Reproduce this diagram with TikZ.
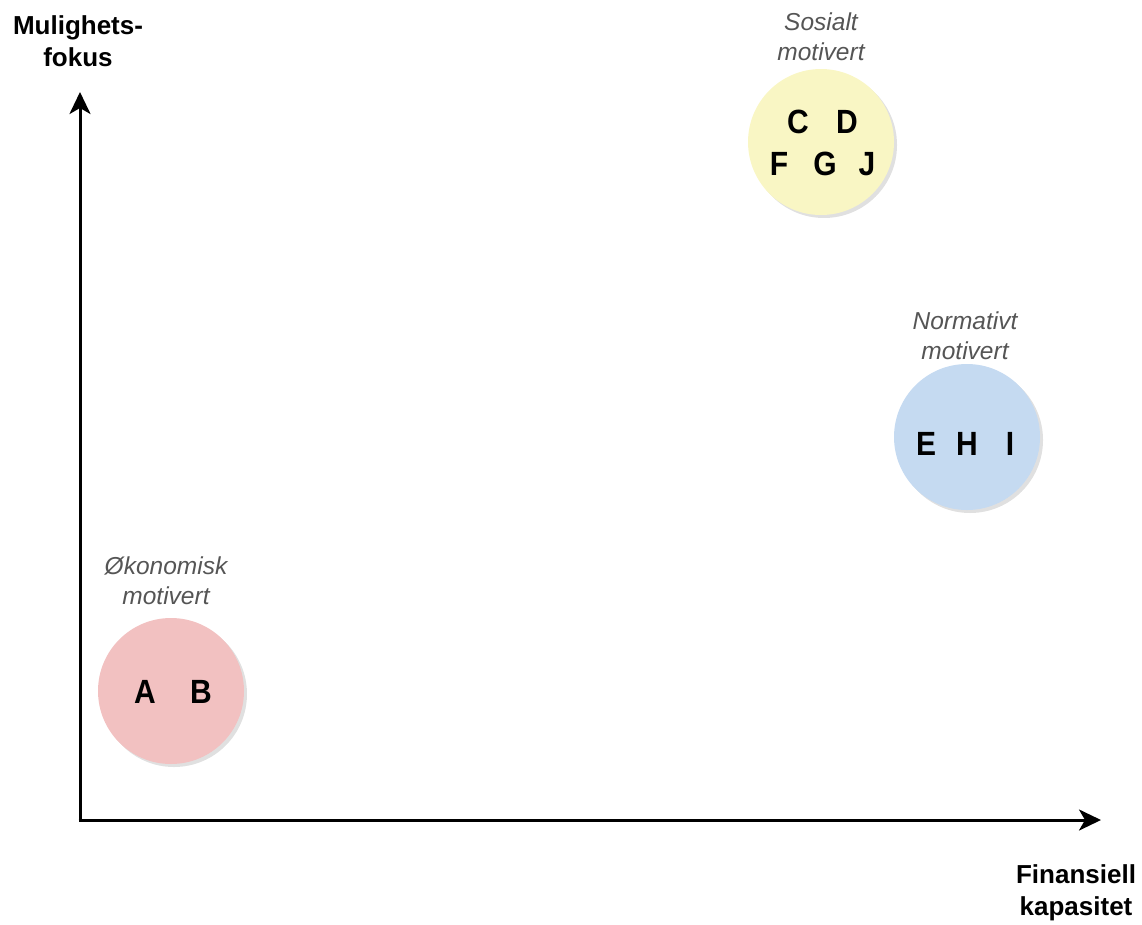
\documentclass[tikz,border=0pt]{standalone}
\usepackage{fontspec}
\setmainfont{Liberation Sans}
\usetikzlibrary{arrows.meta,shadows}
\definecolor{socfill}{RGB}{249,246,196}
\definecolor{normfill}{RGB}{197,218,241}
\definecolor{econfill}{RGB}{242,193,193}
\definecolor{notegray}{RGB}{85,85,85}
\newcommand{\tallglyph}[1]{\scalebox{1}[1.12]{#1}}
\tikzset{
  axis/.style={line width=3pt,-{Stealth[length=22pt,width=21pt,inset=6pt]}},
  axislabel/.style={align=center,inner sep=0pt,font=\fontsize{26}{32}\selectfont\bfseries},
  group/.style={circle,minimum size=146pt,inner sep=0pt,draw=none,
    drop shadow={shadow xshift=3pt,shadow yshift=-3pt,fill=black,opacity=0.12}},
  member/.style={inner sep=0pt,font=\fontsize{30}{30}\selectfont\bfseries},
  grouplabel/.style={align=center,inner sep=0pt,text=notegray,font=\fontsize{24.5}{30}\selectfont\itshape}
}
\begin{document}
\begin{tikzpicture}[x=1pt,y=-1pt]
\useasboundingbox (0,0) rectangle (1142,924);

% axes
\coordinate (origin) at (80,820);
\coordinate (ytip) at (80,92);
\coordinate (xtip) at (1101,820);
\draw[axis] (origin) -- (ytip);
\draw[axis] ([xshift=-1.5pt]origin) -- (xtip);
\node[axislabel] (ylabel) at (78,41) {Mulighets-\\fokus};
\node[axislabel] (xlabel) at (1076,893) {Finansiell\\kapasitet};

% social group
\node[group,fill=socfill] (social) at (821,142) {};
\node[grouplabel] (sociallabel) at (821,37) {Sosialt\\motivert};
\node[member] (C) at (798,122) {\tallglyph{C}};
\node[member] (D) at (847,122) {\tallglyph{D}};
\node[member] (F) at (779,164) {\tallglyph{F}};
\node[member] (G) at (825,164) {\tallglyph{G}};
\node[member] (J) at (867,164) {\tallglyph{J}};

% normative group
\node[group,fill=normfill] (normative) at (967,437) {};
\node[grouplabel] (normativelabel) at (965,336) {Normativt\\motivert};
\node[member] (E) at (926,444) {\tallglyph{E}};
\node[member] (H) at (967,444) {\tallglyph{H}};
\node[member] (I) at (1010,444) {\tallglyph{I}};

% economic group
\node[group,fill=econfill] (economic) at (171,691) {};
\node[grouplabel] (economiclabel) at (166,581) {Økonomisk\\motivert};
\node[member] (A) at (145,692) {\tallglyph{A}};
\node[member] (B) at (201,692) {\tallglyph{B}};
\end{tikzpicture}
\end{document}
